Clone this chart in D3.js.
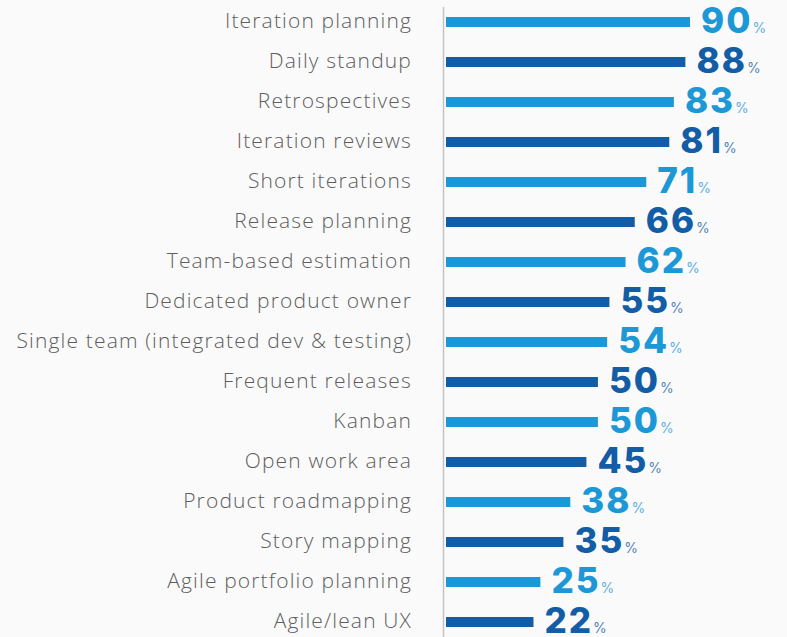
<!DOCTYPE html>
<html>
<head>
<meta charset="utf-8">
<script src="https://cdn.jsdelivr.net/npm/d3@7"></script>
<style>
  html, body { margin: 0; padding: 0; background: #fafafa; }
  svg { display: block; }
  .label { font-family: "Open Sans", Inter, sans-serif; font-weight: 300; font-size: 21px; letter-spacing: 1.15px; fill: #5e5e5e; }
  .num { font-family: Inter, "Open Sans", sans-serif; font-weight: 800; font-size: 35px; letter-spacing: 2px; }
  .pct { font-family: Inter, "Open Sans", sans-serif; font-weight: 400; font-size: 14px; }
</style>
</head>
<body>
<div id="chart"></div>
<script>
// practices and share of respondents using them
var practices = ["Iteration planning", "Daily standup", "Retrospectives", "Iteration reviews",
  "Short iterations", "Release planning", "Team-based estimation", "Dedicated product owner",
  "Single team (integrated dev & testing)", "Frequent releases", "Kanban", "Open work area",
  "Product roadmapping", "Story mapping", "Agile portfolio planning", "Agile/lean UX"]
var values = [90, 88, 83, 81, 71, 66, 62, 55, 54, 50, 50, 45, 38, 35, 25, 22]

var lightBlue = "#1d98d6"
var darkBlue = "#135ca6"

const width = 787
const height = 637
const axisX = 443.5
const barX = 446

var svg = d3.select("#chart")
  .append("svg")
  .attr("width", width)
  .attr("height", height)

const y = d3.scaleBand()
  .domain(practices)
  .range([2, 642])

// bars in the original are not drawn from zero, so the domain starts below it
const x = d3.scaleLinear()
  .domain([-16, 90])
  .range([0, 244])

function colorOf(i) { return i % 2 == 0 ? lightBlue : darkBlue }

// thin grey axis line
svg.append("line")
  .attr("x1", axisX).attr("x2", axisX)
  .attr("y1", 7).attr("y2", height)
  .style("stroke", "#c4c4c4")
  .style("stroke-width", 1.5)

var rows = svg.selectAll(".row")
  .data(practices)
  .enter().append("g")
  .attr("class", "row")
  .attr("transform", d => "translate(0," + (y(d) + y.bandwidth() / 2) + ")")

rows.append("text")
  .attr("class", "label")
  .attr("x", 412)
  .attr("dy", "0.29em")
  .attr("text-anchor", "end")
  .text(d => d)

rows.append("rect")
  .attr("x", barX)
  .attr("y", -5)
  .attr("height", 10)
  .attr("width", (d, i) => x(values[i]))
  .style("fill", (d, i) => colorOf(i))

var num = rows.append("text")
  .attr("x", (d, i) => barX + x(values[i]) + 11)
  .attr("y", 11)
  .style("fill", (d, i) => colorOf(i))

num.append("tspan")
  .attr("class", "num")
  .text((d, i) => values[i])

num.append("tspan")
  .attr("class", "pct")
  .style("opacity", 0.75)
  .text("%")
</script>
</body>
</html>
